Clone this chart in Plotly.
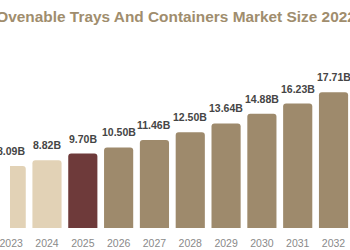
import plotly.graph_objects as go

years = ["2023", "2024", "2025", "2026", "2027", "2028", "2029", "2030", "2031", "2032"]
values = [8.09, 8.82, 9.70, 10.50, 11.46, 12.50, 13.64, 14.88, 16.23, 17.71]
labels = ["8.09B", "8.82B", "9.70B", "10.50B", "11.46B", "12.50B", "13.64B", "14.88B", "16.23B", "17.71B"]
bar_colors = ["#e2d2b6", "#e2d2b6", "#6e3a3a"] + ["#9e8a6c"] * 7
title_text = "Ovenable Trays And Containers Market Size 2022"

fig = go.Figure()
fig.add_trace(go.Bar(x=years, y=values, marker=dict(color=bar_colors, line=dict(width=0)),
                     hoverinfo="skip"))

for i, (v, lab) in enumerate(zip(values, labels)):
    fig.add_annotation(x=i, y=v, text="<b>" + lab + "</b>", showarrow=False, yanchor="bottom", yshift=7,
                       font=dict(family="Liberation Sans, Arial", size=10.5, color="#454545"))

fig.update_layout(
    width=350, height=250,
    margin=dict(l=0, r=0, t=45, b=22),
    paper_bgcolor="white", plot_bgcolor="white",
    bargap=0.186, barcornerradius=3,
    showlegend=False,
    title=dict(text="<b>" + title_text + "</b>", x=0.503, xanchor="center", xref="container",
               y=0.935, yanchor="middle", yref="container",
               font=dict(family="Liberation Sans, Arial", size=15.4, color="#a08d6d")),
    xaxis=dict(type="category", range=[-0.033, 9.46], showgrid=False, zeroline=False,
               showline=False, ticks="outside", ticklen=5, tickcolor="rgba(0,0,0,0)",
               tickfont=dict(family="Liberation Sans, Arial", size=10.5, color="#8a8a8a")),
    yaxis=dict(range=[0, 183 / 7.67], visible=False, showgrid=False),
)

fig.write_html("out.html")
